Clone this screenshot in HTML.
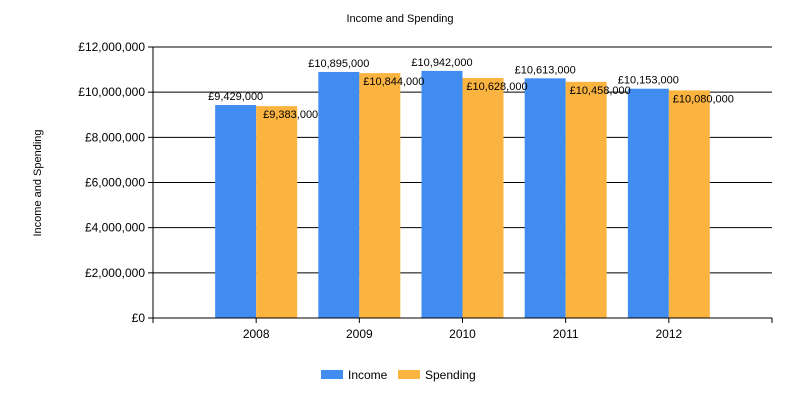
<!DOCTYPE html>
<html><head><meta charset="utf-8"><style>
body{margin:0;background:#fff;font-family:"Liberation Sans",sans-serif}
</style></head><body>
<svg width="800" height="400" xmlns="http://www.w3.org/2000/svg" font-family="Liberation Sans, sans-serif">
<text x="400" y="22" text-anchor="middle" font-size="11">Income and Spending</text>
<text transform="translate(41,183) rotate(-90)" text-anchor="middle" font-size="11">Income and Spending</text>
<g id="grid"></g><g id="bars"></g><g id="labels"></g>
<line x1="153" y1="47" x2="153" y2="318" stroke="#000"/>
<line x1="153" y1="318" x2="772" y2="318" stroke="#000"/>
<rect x="321" y="370" width="22" height="9" fill="#418CF0"/>
<text x="348" y="379" font-size="12">Income</text>
<rect x="398" y="370" width="22" height="9" fill="#FCB441"/>
<text x="425" y="379" font-size="12">Spending</text>
</svg>
<script>
const categories=["2008","2009","2010","2011","2012"];
const income=[9429000,10895000,10942000,10613000,10153000];
const spending=[9383000,10844000,10628000,10458000,10080000];
const yTicks=[0,2000000,4000000,6000000,8000000,10000000,12000000];
const NS="http://www.w3.org/2000/svg";
const x0=153,x1=772,yb=318,yt=47,ymax=12000000;
const step=(x1-x0)/(categories.length+1);
const y=v=>yb-(v/ymax)*(yb-yt);
const cx=i=>x0+step*(i+1);
const fmt=v=>"£"+v.toLocaleString("en-GB");
function mk(tag,attrs,parent,text){const e=document.createElementNS(NS,tag);for(const k in attrs)e.setAttribute(k,attrs[k]);if(text!==undefined)e.textContent=text;document.getElementById(parent).appendChild(e);return e;}
yTicks.forEach(t=>{
  const yy=y(t);
  if(t>0){const g=mk("line",{x1:x0,x2:x1,y1:yy,y2:yy,stroke:"#000"},"grid");
  
  }
  const tk=mk("line",{x1:x0-5,x2:x0,y1:yy,y2:yy,stroke:"#000"},"grid");
  
  
  const l=mk("text",{x:x0-8,y:yy+4,"text-anchor":"end","font-size":"12"},"grid",fmt(t));
  
  
});
for(let i=0;i<=categories.length+1;i++){
  const xx=x0+step*i;
  const tk=mk("line",{x1:xx,x2:xx,y1:yb,y2:yb+5,stroke:"#000"},"grid");
  
  
}
const bw=41;
categories.forEach((c,i)=>{
  const c0=cx(i);
  const l=mk("text",{x:c0,y:yb+20,"text-anchor":"middle","font-size":"12"},"labels",c);
  
  
  const b1=mk("rect",{x:c0-bw,y:y(income[i]),width:bw,height:yb-y(income[i]),fill:"#418CF0"},"bars");
  
  
  const b2=mk("rect",{x:c0,y:y(spending[i]),width:bw,height:yb-y(spending[i]),fill:"#FCB441"},"bars");
  
  
  const t1=mk("text",{x:c0-bw/2,y:y(income[i])-5,"text-anchor":"middle","font-size":"11"},"labels",fmt(income[i]));
  
  
  const t2=mk("text",{x:c0+bw/2+14,y:y(spending[i])+12,"text-anchor":"middle","font-size":"11"},"labels",fmt(spending[i]));
  
  
});
</script>
</body></html>
